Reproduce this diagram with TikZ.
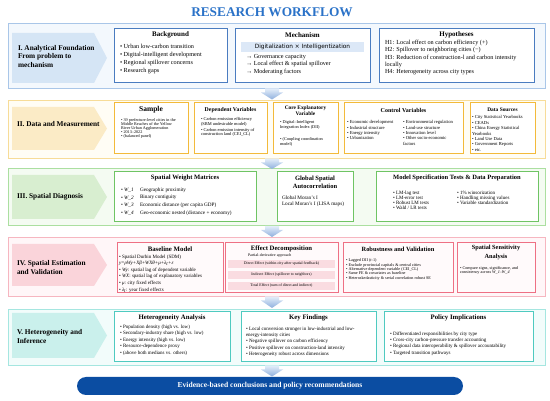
\documentclass[tikz,border=0pt]{standalone}
\usepackage{fontspec}
\setmainfont{Liberation Serif}
\newfontfamily\mechsans{DejaVu Sans}
\definecolor{ttlblue}{HTML}{2A72C8}
\definecolor{oIbd}{HTML}{A9C6E8}\definecolor{oIfl}{HTML}{F3F8FD}\definecolor{chI}{HTML}{D5E5F5}\definecolor{iIbd}{HTML}{4A7CC0}\definecolor{bandI}{HTML}{DCE8F7}
\definecolor{oIIbd}{HTML}{F7DC98}\definecolor{oIIfl}{HTML}{FFFDF5}\definecolor{chII}{HTML}{FBEBC6}\definecolor{iIIbd}{HTML}{F3BA3A}
\definecolor{oIIIbd}{HTML}{ABDFA0}\definecolor{oIIIfl}{HTML}{F4FBF2}\definecolor{chIII}{HTML}{D8EED0}\definecolor{iIIIbd}{HTML}{6FC464}
\definecolor{oIVbd}{HTML}{F6B6C0}\definecolor{oIVfl}{HTML}{FFF6F8}\definecolor{chIV}{HTML}{FAD4DA}\definecolor{iIVbd}{HTML}{EE7084}\definecolor{barIV}{HTML}{FADCE1}\definecolor{iIVfl}{HTML}{FFFAFB}
\definecolor{oVbd}{HTML}{A5E6E0}\definecolor{oVfl}{HTML}{F2FCFB}\definecolor{chV}{HTML}{CAF0EC}\definecolor{iVbd}{HTML}{4FCAC0}
\definecolor{arT}{HTML}{E4EEFA}\definecolor{arB}{HTML}{8EAFDD}
\definecolor{bannerblue}{HTML}{0B4DA2}
\newcommand{\fsz}[2]{\fontsize{#1}{#2}\selectfont}
\newcommand{\bx}[6]{\node[#2, anchor=north west, inner sep=0pt, outer sep=0pt, minimum width={#5pt-#3pt}, minimum height={#6pt-#4pt}] (#1) at (#3,#4) {};}
\newcommand{\chev}[3]{\fill[#1] (12,#2) -- (94,#2) -- (107,{(#2+#3)/2}) -- (94,#3) -- (12,#3) -- cycle;}
\newcommand{\flowarr}[2]{\shade[top color=arT, bottom color=arB] (265,#1) -- (279,#1) -- (279,{#1+4}) -- (283,{#1+4}) -- (272,#2) -- (261,{#1+4}) -- (265,{#1+4}) -- cycle;}
\begin{document}
\begin{tikzpicture}[x=1pt,y=-1pt,
  txt/.style={inner sep=0pt, outer sep=0pt, align=left, anchor=west, text=black},
  ttl/.style={inner sep=0pt, outer sep=0pt, align=center, text=black},
  outerbox/.style={line width=0.8pt},
  innerbox/.style={line width=1pt}]
\useasboundingbox (0,0) rectangle (550,401);
\fill[white] (0,0) rectangle (550,401);

\node[ttl, font=\bfseries\fsz{13.3}{15}, text=ttlblue] (title) at (272,12) {RESEARCH WORKFLOW};

% ---------- Section I ----------
\bx{secI}{outerbox, draw=oIbd, fill=oIfl}{8}{23}{545}{88}
\chev{chI}{33}{83}
\node[txt, font=\bfseries\fsz{7.3}{8.5}] (labI) at (18,56.5) {I. Analytical Foundation\\From problem to\\mechanism};
\bx{bg}{innerbox, draw=iIbd, fill=white}{114}{29}{227}{83}
\node[ttl, font=\bfseries\fsz{7}{8}] (bgT) at (170.5,35) {Background};
\node[txt, font=\fsz{6.2}{7.7}] (bgL) at (120,59) {• Urban low-carbon transition\\• Digital-intelligent development\\• Regional spillover concerns\\• Research gaps};
\bx{me}{innerbox, draw=iIbd, fill=white}{235}{29}{370}{83}
\node[ttl, font=\bfseries\fsz{7}{8}] (meT) at (302.5,35) {Mechanism};
\bx{meBand}{fill=bandI}{241}{42}{364}{52}
\node[ttl, font=\mechsans\fsz{5.8}{7}] (meB) at (302.5,47) {Digitalization × Intelligentization};
\node[txt, font=\fsz{6.2}{7.5}] (meL) at (246,64.5) {→ Governance capacity\\→ Local effect \& spatial spillover\\→ Moderating factors};
\bx{hy}{innerbox, draw=iIbd, fill=white}{379}{29}{534}{83}
\node[ttl, font=\bfseries\fsz{7}{8}] (hyT) at (456.5,35) {Hypotheses};
\node[txt, font=\fsz{6.2}{7.2}] (hyL) at (385,57.5) {H1: Local effect on carbon efficiency (+)\\H2: Spillover to neighboring cities (−)\\H3: Reduction of construction-l and carbon intensity\\locally\\H4: Heterogeneity across city types};

% ---------- Section II ----------
\bx{secII}{outerbox, draw=oIIbd, fill=oIIfl}{8}{100}{545}{158}
\chev{chII}{107}{150}
\node[txt, font=\bfseries\fsz{7.3}{8.5}] (labII) at (17,124) {II. Data and Measurement};
\bx{sa}{innerbox, draw=iIIbd, fill=white}{114}{103}{188}{154}
\node[ttl, font=\bfseries\fsz{7.5}{8}] (saT) at (151,110) {Sample};
\node[txt, font=\fsz{4.2}{4.2}] (saL) at (121,128.5) {• 39 prefecture-level cities in the\\Middle Reaches of the Yellow\\River Urban Agglomeration\\• 2013–2022\\• (balanced panel)};
\bx{dv}{innerbox, draw=iIIbd, fill=white}{194}{103}{267}{154}
\node[ttl, font=\bfseries\fsz{5.8}{7}] (dvT) at (230.5,110) {Dependent Variables};
\node[txt, font=\fsz{4.4}{4.3}] (dvL) at (201,127) {• Carbon emission efficiency\\(SBM undesirable model)\\[1.6pt]• Carbon emission intensity of\\construction land (CEI\_CL)};
\bx{ce}{innerbox, draw=iIIbd, fill=white}{273}{103}{338}{154}
\node[ttl, font=\bfseries\fsz{5.4}{4.8}] (ceT) at (305.5,111) {Core Explanatory\\Variable};
\node[txt, font=\fsz{4.3}{5}] (ceL) at (280,133) {• Digital–Intelligent\\Integration Index (DII)\\[7pt]• (Coupling coordination\\model)};
\bx{cv}{innerbox, draw=iIIbd, fill=white}{344}{103}{463}{154}
\node[ttl, font=\bfseries\fsz{6}{7}] (cvT) at (403.5,110) {Control Variables};
\node[txt, font=\fsz{4.6}{5.3}] (cvL) at (347,130.2) {• Economic development\\• Industrial structure\\• Energy intensity\\• Urbanization};
\node[txt, font=\fsz{4.6}{5.4}] (cvR) at (403,133) {• Environmental regulation\\• Land-use structure\\• Innovation level\\• Other socio-economic\\factors};
\bx{ds}{innerbox, draw=iIIbd, fill=white}{470}{103}{535}{154}
\node[ttl, font=\bfseries\fsz{5.4}{7}] (dsT) at (502.5,110) {Data Sources};
\node[txt, font=\fsz{4.6}{5.4}] (dsL) at (472,133.5) {• City Statistical Yearbooks\\• CEADs\\• China Energy Statistical\\Yearbooks\\• Land Use Data\\• Government Reports\\• etc.};

% ---------- Section III ----------
\bx{secIII}{outerbox, draw=oIIIbd, fill=oIIIfl}{8}{168}{545}{225}
\chev{chIII}{175}{219}
\node[txt, font=\bfseries\fsz{7.3}{8.5}] (labIII) at (17,197) {III. Spatial Diagnosis};
\bx{sw}{innerbox, draw=iIIIbd, fill=white}{114}{172}{256}{222}
\node[ttl, font=\bfseries\fsz{6.6}{7}] (swT) at (185,178) {Spatial Weight Matrices};
\node[txt, font=\fsz{5.2}{7.6}] (swA) at (121,201.5) {• \textit{W\_1}\\• \textit{W\_2}\\• \textit{W\_3}\\• \textit{W\_4}};
\node[txt, font=\fsz{5.2}{7.6}] (swB) at (140,201.5) {Geographic proximity\\Binary contiguity\\Economic distance (per capita GDP)\\Geo-economic nested (distance + economy)};
\bx{gs}{innerbox, draw=iIIIbd, fill=white}{277}{172}{353}{222}
\node[ttl, font=\bfseries\fsz{6.5}{8.5}] (gsT) at (315,182.5) {Global Spatial\\Autocorrelation};
\node[txt, font=\fsz{5.2}{6}] (gsL) at (282,201) {Global Moran’s I\\Local Moran’s I (LISA maps)};
\bx{ms}{innerbox, draw=iIIIbd, fill=white}{376}{172}{538}{222}
\node[ttl, font=\bfseries\fsz{6.5}{7}] (msT) at (457,178) {Model Specification Tests \& Data Preparation};
\node[txt, font=\fsz{5}{5}] (msL) at (393,200.5) {• LM-lag test\\• LM-error test\\• Robust LM tests\\• Wald / LR tests};
\node[txt, font=\fsz{5}{5}] (msR) at (457,198) {• 1\% winsorization\\• Handling missing values\\• Variable standardization};

% ---------- Section IV ----------
\bx{secIV}{outerbox, draw=oIVbd, fill=oIVfl}{8}{237}{545}{296}
\chev{chIV}{244}{286}
\node[txt, font=\bfseries\fsz{7.3}{9}] (labIV) at (17,267.5) {IV. Spatial Estimation\\and Validation};
\bx{bm}{innerbox, draw=iIVbd, fill=iIVfl}{117}{243}{223}{293}
\node[ttl, font=\bfseries\fsz{6.8}{7}] (bmT) at (170,249) {Baseline Model};
\node[txt, font=\fsz{5}{6.6}] (bmL) at (119,273.5) {• Spatial Durbin Model (SDM)\\\textit{y=ρWy+Xβ+WXθ+μ+λ\textsubscript{t}+ε}\\• \textit{Wy}: spatial lag of dependent variable\\• \textit{WX}: spatial lag of explanatory variables\\• \textit{μ}: city fixed effects\\• \textit{λ\textsubscript{t}}: year fixed effects};
\bx{ed}{innerbox, draw=iIVbd, fill=iIVfl}{225}{243}{338}{293}
\node[ttl, font=\bfseries\fsz{6.7}{7}] (edT) at (281.5,249) {Effect Decomposition};
\node[txt, font=\fsz{4}{5}] (edS) at (248,255.5) {Partial-derivative approach};
\bx{edA}{fill=barIV}{228}{260}{335}{268}
\node[ttl, font=\fsz{3.9}{5}] (edAt) at (281.5,264) {Direct Effect (within-city after spatial feedback)};
\bx{edB}{fill=barIV}{228}{271}{335}{279}
\node[ttl, font=\fsz{3.9}{5}] (edBt) at (281.5,275) {Indirect Effect (spillover to neighbors)};
\bx{edC}{fill=barIV}{228}{282}{335}{290}
\node[ttl, font=\fsz{3.9}{5}] (edCt) at (281.5,286) {Total Effect (sum of direct and indirect)};
\bx{rv}{innerbox, draw=iIVbd, fill=iIVfl}{343}{243}{453}{293}
\node[ttl, font=\bfseries\fsz{6.4}{7}] (rvT) at (398,249) {Robustness and Validation};
\node[txt, font=\fsz{4.2}{4.3}] (rvL) at (346,269.5) {• Lagged DII (\textit{t}-1)\\• Exclude provincial capitals \& central cities\\• Alternative dependent variable (CEI\_CL)\\• Same FE \& covariates as baseline\\• Heteroskedasticity \& serial correlation robust SE};
\bx{ss}{innerbox, draw=iIVbd, fill=iIVfl}{457}{243}{535}{293}
\node[ttl, font=\bfseries\fsz{6.3}{8.4}] (ssT) at (496,252.5) {Spatial Sensitivity\\Analysis};
\node[txt, font=\fsz{4.2}{4.8}] (ssL) at (460,270.5) {• Compare signs, significance, and\\consistency across \textit{W\_1}–\textit{W\_4}};

% ---------- Section V ----------
\bx{secV}{outerbox, draw=oVbd, fill=oVfl}{8}{309}{545}{365}
\chev{chV}{313}{358}
\node[txt, font=\bfseries\fsz{7.3}{9}] (labV) at (17,336.5) {V. Heterogeneity and\\Inference};
\bx{ha}{innerbox, draw=iVbd, fill=white}{114}{312}{230}{362}
\node[ttl, font=\bfseries\fsz{6.8}{7}] (haT) at (172,318) {Heterogeneity Analysis};
\node[txt, font=\fsz{5}{6.5}] (haL) at (120,340) {• Population density (high vs. low)\\• Secondary-industry share (high vs. low)\\• Energy intensity (high vs. low)\\• Resource-dependence proxy\\• (above both medians vs. others)};
\bx{kf}{innerbox, draw=iVbd, fill=white}{241}{312}{376}{362}
\node[ttl, font=\bfseries\fsz{6.8}{7}] (kfT) at (308.5,318) {Key Findings};
\node[txt, font=\fsz{5}{6.4}] (kfL) at (246,341.7) {• Local conversion stronger in low-industrial and low-\\energy-intensity cities\\• Negative spillover on carbon efficiency\\• Positive spillover on construction-land intensity\\• Heterogeneity robust across dimensions};
\bx{pi}{innerbox, draw=iVbd, fill=white}{384}{312}{533}{362}
\node[ttl, font=\bfseries\fsz{6.8}{7}] (piT) at (458.5,318) {Policy Implications};
\node[txt, font=\fsz{5}{6.4}] (piL) at (390,343.5) {• Differentiated responsibilities by city type\\• Cross-city carbon-pressure transfer accounting\\• Regional data interoperability \& spillover accountability\\• Targeted transition pathways};

% ---------- Banner ----------
\node[fill=bannerblue, rounded corners=9pt, minimum width=386pt, minimum height=18pt, inner sep=0pt, text=white, font=\bfseries\fsz{7.6}{8}] (banner) at (270,386) {Evidence-based conclusions and policy recommendations};

% ---------- Flow arrows ----------
\flowarr{88.5}{99.5}
\flowarr{158.5}{169}
\flowarr{226}{237}
\flowarr{296.5}{308}
\flowarr{365.5}{376.5}
\end{tikzpicture}
\end{document}
